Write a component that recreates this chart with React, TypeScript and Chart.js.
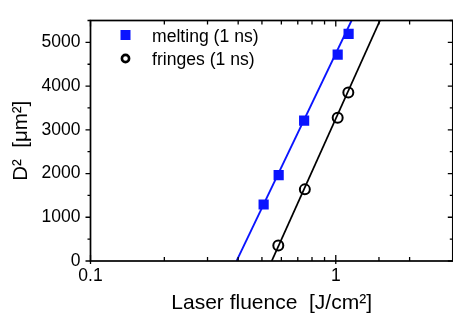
import React, { useEffect, useRef } from "react";
import { Chart, registerables } from "chart.js";

Chart.register(...registerables);

// ---- data ----
const meltingX = [0.508, 0.585, 0.743, 1.018, 1.128];
const meltingY = [1292, 1963, 3212, 4719, 5195];
const fringesX = [0.583, 0.748, 1.018, 1.125];
const fringesY = [355, 1638, 3277, 3853];
// fitted straight lines (endpoints of the fits in data units)
const meltingFitX = [0.394, 1.16];
const meltingFitY = [0, 5500];
const fringesFitX = [0.548, 1.514];
const fringesFitY = [0, 5500];
// axes
const xMin = 0.1;
const xMax = 3;
const yMin = 0;
const yMax = 5500;
const xTickLabels = [0.1, 1];
const yMajorStep = 1000;
const yMinorStep = 500;
const seriesNames = ["melting (1 ns)", "fringes (1 ns)"];

const FONT = "'Liberation Sans', Arial, Helvetica, sans-serif";
const BLUE = "#0a14ff";

const toPts = (xs: number[], ys: number[]) => xs.map((x, i) => ({ x, y: ys[i] }));

const framePlugin = {
  id: "frameTicks",
  afterDatasetsDraw(chart: any) {
    const { ctx, chartArea } = chart;
    const { left, right, top, bottom } = chartArea;
    const xs = chart.scales.x;
    const ys = chart.scales.y;
    ctx.save();
    ctx.strokeStyle = "#000";
    ctx.lineWidth = 1.3;
    ctx.beginPath();
    xs.ticks.forEach((t: any) => {
      const px = xs.getPixelForValue(t.value);
      const major = xTickLabels.some((v) => Math.abs(v - t.value) < 1e-9);
      const len = major ? 6 : 4;
      ctx.moveTo(px, bottom);
      ctx.lineTo(px, bottom - len);
      if (major) {
        ctx.moveTo(px, bottom);
        ctx.lineTo(px, bottom + 3);
      }
      ctx.moveTo(px, top);
      ctx.lineTo(px, top + len);
    });
    ys.ticks.forEach((t: any) => {
      const py = ys.getPixelForValue(t.value);
      const major = Math.abs(t.value % yMajorStep) < 1e-9;
      const len = major ? 5 : 3;
      ctx.moveTo(left, py);
      ctx.lineTo(left - len, py);
      ctx.moveTo(right, py);
      ctx.lineTo(right - len, py);
    });
    ctx.stroke();
    ctx.lineWidth = 1.7;
    ctx.strokeRect(left, top, right - left, bottom - top);
    ctx.restore();
  },
  afterDraw(chart: any) {
    const { ctx } = chart;
    ctx.save();
    // legend
    const lx = 125.5;
    const rows = [35, 58.5];
    ctx.fillStyle = BLUE;
    ctx.fillRect(lx - 5, rows[0] - 5, 10, 10);
    ctx.beginPath();
    ctx.strokeStyle = "#000";
    ctx.lineWidth = 2.6;
    ctx.arc(lx, rows[1], 3.6, 0, Math.PI * 2);
    ctx.stroke();
    ctx.fillStyle = "#000";
    ctx.font = `17.6px ${FONT}`;
    ctx.textBaseline = "middle";
    ctx.textAlign = "left";
    ctx.fillText(seriesNames[0], 152, rows[0] + 2);
    ctx.fillText(seriesNames[1], 152, rows[1] + 2);
    ctx.restore();
  },
};

export default function App() {
  const ref = useRef<HTMLCanvasElement | null>(null);
  useEffect(() => {
    document.body.style.overflow = "hidden";
    const canvas = ref.current!;
    const chart = new Chart(canvas, {
      type: "scatter",
      data: {
        datasets: [
          {
            label: seriesNames[0],
            data: toPts(meltingX, meltingY),
            pointStyle: "rect",
            pointRadius: 7.2,
            backgroundColor: BLUE,
            borderColor: BLUE,
            borderWidth: 0,
            showLine: false,
          },
          {
            label: seriesNames[1],
            data: toPts(fringesX, fringesY),
            pointStyle: "circle",
            pointRadius: 5,
            backgroundColor: "rgba(0,0,0,0)",
            borderColor: "#000",
            borderWidth: 2,
            showLine: false,
          },
          {
            label: "fit melting",
            data: toPts(meltingFitX, meltingFitY),
            showLine: true,
            pointRadius: 0,
            borderColor: BLUE,
            borderWidth: 1.8,
          },
          {
            label: "fit fringes",
            data: toPts(fringesFitX, fringesFitY),
            showLine: true,
            pointRadius: 0,
            borderColor: "#000",
            borderWidth: 1.8,
          },
        ],
      },
      options: {
        responsive: false,
        animation: false,
        devicePixelRatio: 1,
        layout: { padding: { top: 7, right: 4, left: 0, bottom: 0 } },
        plugins: { legend: { display: false }, tooltip: { enabled: false } },
        scales: {
          x: {
            type: "logarithmic",
            min: xMin,
            max: xMax,
            grid: { display: false, drawTicks: false },
            border: { display: false },
            ticks: {
              autoSkip: false,
              maxRotation: 0,
              padding: 5,
              color: "#000",
              font: { family: FONT, size: 17.5 },
              callback: (v: any) => {
                const n = Number(v);
                const hit = xTickLabels.find((t) => Math.abs(t - n) < 1e-9);
                return hit !== undefined ? String(hit) : "";
              },
            },
            title: {
              display: true,
              text: "Laser fluence  [J/cm²]",
              color: "#000",
              font: { family: FONT, size: 21 },
              padding: { top: 0, bottom: 4 },
            },
            afterFit: (s: any) => {
              s.height = 59;
            },
          },
          y: {
            min: yMin,
            max: yMax,
            grid: { display: false, drawTicks: false },
            border: { display: false },
            ticks: {
              stepSize: yMinorStep,
              autoSkip: false,
              padding: 10,
              color: "#000",
              font: { family: FONT, size: 17.5 },
              callback: (v: any) => (Number(v) % yMajorStep === 0 ? String(v) : ""),
            },
            title: {
              display: true,
              text: "D²  [μm²]",
              color: "#000",
              font: { family: FONT, size: 20.5 },
              padding: { top: 9, bottom: 0 },
            },
            afterFit: (s: any) => {
              s.width = 90.5;
            },
          },
        },
      },
      plugins: [framePlugin],
    });
    return () => chart.destroy();
  }, []);
  return (
    <div style={{ position: "fixed", left: 0, top: 0, width: 460, height: 320, background: "#fff" }}>
      <canvas ref={ref} width={460} height={320} style={{ display: "block" }} />
    </div>
  );
}
